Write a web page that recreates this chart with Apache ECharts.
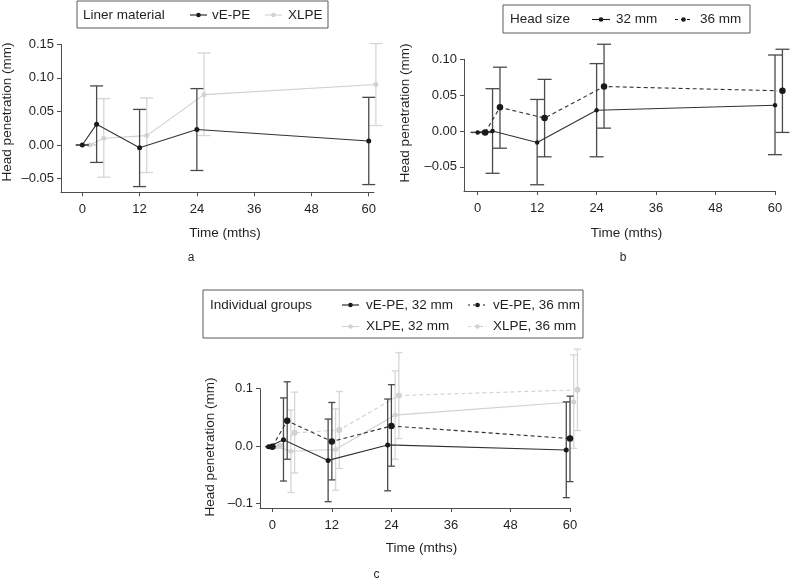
<!DOCTYPE html>
<html><head><meta charset="utf-8">
<script src="https://cdn.jsdelivr.net/npm/echarts@6/dist/echarts.min.js"></script>
<style>html,body{margin:0;padding:0;background:#fff}#c{width:790px;height:580px}</style>
</head><body><div id="c"></div>
<script>
// ---------- tick labels ----------
const xTicks = [0, 12, 24, 36, 48, 60];
const yTicksA = [-0.05, 0, 0.05, 0.10, 0.15];
const yTicksB = [-0.05, 0, 0.05, 0.10];
const yTicksC = [-0.1, 0, 0.1];

// ---------- panel a: liner material ----------
const aTimeVE = [0, 3, 12, 24, 60];
const aMeanVE = [0.000, 0.031, -0.004, 0.023, 0.006];
const aLowVE  = [0.000, -0.026, -0.062, -0.038, -0.059];
const aHighVE = [0.000, 0.088, 0.053, 0.084, 0.071];
const aTimeXL = [1.5, 4.5, 13.5, 25.5, 61.5];
const aMeanXL = [0.000, 0.010, 0.014, 0.075, 0.090];
const aLowXL  = [0.000, -0.048, -0.041, 0.014, 0.029];
const aHighXL = [0.000, 0.069, 0.070, 0.137, 0.151];

// ---------- panel b: head size ----------
const bTime32 = [0, 3, 12, 24, 60];
const bMean32 = [-0.002, 0.000, -0.016, 0.029, 0.036];
const bLow32  = [-0.002, -0.059, -0.075, -0.036, -0.033];
const bHigh32 = [-0.002, 0.059, 0.044, 0.094, 0.106];
const bTime36 = [1.5, 4.5, 13.5, 25.5, 61.5];
const bMean36 = [-0.002, 0.033, 0.018, 0.062, 0.056];
const bLow36  = [-0.002, -0.024, -0.036, 0.004, -0.002];
const bHigh36 = [-0.002, 0.089, 0.072, 0.121, 0.114];

// ---------- panel c: individual groups ----------
const cTimeVE32 = [-0.75, 2.25, 11.25, 23.25, 59.25];
const cMeanVE32 = [-0.001, 0.011, -0.025, 0.002, -0.007];
const cLowVE32  = [-0.001, -0.061, -0.097, -0.078, -0.090];
const cHighVE32 = [-0.001, 0.084, 0.047, 0.082, 0.077];
const cTimeVE36 = [0, 3, 12, 24, 60];
const cMeanVE36 = [-0.001, 0.044, 0.008, 0.035, 0.013];
const cLowVE36  = [-0.001, -0.023, -0.059, -0.035, -0.062];
const cHighVE36 = [-0.001, 0.112, 0.076, 0.107, 0.087];
const cTimeXL32 = [0.75, 3.75, 12.75, 24.75, 60.75];
const cMeanXL32 = [-0.001, -0.009, -0.006, 0.054, 0.077];
const cLowXL32  = [-0.001, -0.081, -0.077, -0.023, -0.004];
const cHighXL32 = [-0.001, 0.063, 0.065, 0.131, 0.159];
const cTimeXL36 = [1.5, 4.5, 13.5, 25.5, 61.5];
const cMeanXL36 = [0.000, 0.023, 0.028, 0.088, 0.098];
const cLowXL36  = [0.000, -0.047, -0.039, 0.013, 0.027];
const cHighXL36 = [0.000, 0.094, 0.095, 0.163, 0.169];

// ---------- styling ----------
const FONT = '"Liberation Sans", Arial, sans-serif';
const TXT = '#231f20';
const AX = '#4d4d4d';
const DARK = '#1a1a1a', DARKBAR = '#4a4a4a', DARKLINE = '#333333';
const LIGHT = '#d2d2d2', LIGHTBAR = '#d6d6d6', LIGHTLINE = '#d0d0d0';

const zip = (t, v) => t.map((x, i) => [x, v[i]]);
const zip3 = (t, lo, hi) => t.map((x, i) => [x, lo[i], hi[i]]);

function lineSeries(idx, t, v, color, lineColor, dash, size, z) {
  return {
    type: 'line', xAxisIndex: idx, yAxisIndex: idx, data: zip(t, v), clip: false, z: z,
    symbol: 'circle', symbolSize: size, showSymbol: true,
    itemStyle: { color: color, borderWidth: 0 },
    lineStyle: { color: lineColor, width: 1.1, type: dash ? [4, 3] : 'solid' },
    emphasis: { disabled: true }, silent: true
  };
}
function errSeries(idx, t, lo, hi, color, half, z) {
  return {
    type: 'custom', xAxisIndex: idx, yAxisIndex: idx, data: zip3(t, lo, hi), clip: false, z: z,
    encode: { x: 0, y: [1, 2] }, silent: true,
    renderItem: function (params, api) {
      const x = api.value(0), l = api.value(1), h = api.value(2);
      const p1 = api.coord([x, h]), p2 = api.coord([x, l]);
      const st = { stroke: color, lineWidth: 1.3, fill: null };
      return { type: 'group', children: [
        { type: 'line', shape: { x1: p1[0], y1: p1[1], x2: p2[0], y2: p2[1] }, style: st },
        { type: 'line', shape: { x1: p1[0] - half, y1: p1[1], x2: p1[0] + half, y2: p1[1] }, style: st },
        { type: 'line', shape: { x1: p2[0] - half, y1: p2[1], x2: p2[0] + half, y2: p2[1] }, style: st }
      ]};
    }
  };
}

function xAx(idx, min, max) {
  return {
    gridIndex: idx, type: 'value', min: min, max: max,
    axisLine: { show: true, onZero: false, lineStyle: { color: AX, width: 1 } },
    axisTick: { show: true, length: 4, customValues: xTicks, lineStyle: { color: AX } },
    axisLabel: { customValues: xTicks, margin: 11, fontSize: 13, color: TXT, fontFamily: FONT },
    splitLine: { show: false }
  };
}
function yAx(idx, min, max, ticks, dec) {
  return {
    gridIndex: idx, type: 'value', min: min, max: max,
    axisLine: { show: true, onZero: false, lineStyle: { color: AX, width: 1 } },
    axisTick: { show: true, length: 4, customValues: ticks, lineStyle: { color: AX } },
    axisLabel: { customValues: ticks, margin: 7, fontSize: 13, color: TXT, fontFamily: FONT,
      formatter: v => (v < -1e-9 ? '\u2013' : '') + Math.abs(v).toFixed(dec) },
    splitLine: { show: false }
  };
}

// ---------- graphic helpers (legends, titles) ----------
function txt(x, y, s, opts) {
  opts = opts || {};
  return { type: 'text', x: x, y: y, rotation: opts.rot || 0, silent: true,
    style: { text: s, fill: TXT, font: (opts.size || 13.5) + 'px ' + FONT,
      align: opts.align || 'left', verticalAlign: 'middle' } };
}
function legItem(x1, x2, y, lineColor, dotColor, dash, r) {
  return [
    { type: 'line', silent: true, shape: { x1: x1, y1: y, x2: x2, y2: y },
      style: { stroke: lineColor, lineWidth: 1.1, lineDash: dash || null } },
    { type: 'circle', silent: true, shape: { cx: (x1 + x2) / 2, cy: y, r: r },
      style: { fill: dotColor } }
  ];
}
function box(x, y, w, h) {
  return { type: 'rect', silent: true, shape: { x: x, y: y, width: w, height: h },
    style: { fill: '#fff', stroke: '#5a5a5a', lineWidth: 1 } };
}

const graphics = [].concat(
  // panel a legend
  [box(77, 1, 251, 27), txt(83, 15, 'Liner material')],
  legItem(190, 207, 15, DARK, DARK, null, 2.3), [txt(212, 15, 'vE-PE')],
  legItem(265, 282, 15, LIGHTLINE, LIGHT, null, 2.3), [txt(288, 15, 'XLPE')],
  // panel b legend
  [box(503, 5, 247, 28), txt(510, 19.5, 'Head size')],
  legItem(592, 610, 19.5, DARK, DARK, null, 2.3), [txt(616, 19.5, '32 mm')],
  legItem(675, 692, 19.5, DARK, DARK, [3, 3], 2.3), [txt(700, 19.5, '36 mm')],
  // panel c legend
  [box(203, 290, 380, 48), txt(210, 305, 'Individual groups')],
  legItem(342, 359, 305, DARK, DARK, null, 2.3), [txt(366, 305, 'vE-PE, 32 mm')],
  legItem(468, 487, 305, DARK, DARK, [2, 3], 2.3), [txt(493, 305, 'vE-PE, 36 mm')],
  legItem(342, 359, 326.5, LIGHTLINE, LIGHT, null, 2.3), [txt(366, 326.5, 'XLPE, 32 mm')],
  legItem(468, 487, 326.5, LIGHTLINE, LIGHT, [3, 3], 2.3), [txt(493, 326.5, 'XLPE, 36 mm')],
  // axis titles
  [txt(7, 112, 'Head penetration (mm)', { rot: Math.PI / 2, align: 'center' }),
   txt(405.5, 113, 'Head penetration (mm)', { rot: Math.PI / 2, align: 'center' }),
   txt(210, 447, 'Head penetration (mm)', { rot: Math.PI / 2, align: 'center' }),
   txt(225, 233, 'Time (mths)', { align: 'center' }),
   txt(626.5, 233, 'Time (mths)', { align: 'center' }),
   txt(421.5, 548.5, 'Time (mths)', { align: 'center' }),
   txt(191, 258, 'a', { align: 'center', size: 12 }),
   txt(623, 258, 'b', { align: 'center', size: 12 }),
   txt(376.5, 575, 'c', { align: 'center', size: 12 })]
);

const option = {
  animation: false,
  backgroundColor: '#ffffff',
  textStyle: { fontFamily: FONT },
  grid: [
    { left: 61, top: 44.3, width: 313, height: 148 },
    { left: 464, top: 59.3, width: 311, height: 131.7 },
    { left: 260, top: 388.7, width: 310, height: 119.3 }
  ],
  xAxis: [ xAx(0, -4.46, 61.1), xAx(1, -2.76, 60), xAx(2, -2.48, 60) ],
  yAxis: [ yAx(0, -0.0705, 0.15, yTicksA, 2), yAx(1, -0.0837, 0.10, yTicksB, 2), yAx(2, -0.108, 0.1, yTicksC, 1) ],
  series: [
    // panel a
    errSeries(0, aTimeXL, aLowXL, aHighXL, LIGHTBAR, 6.5, 1),
    lineSeries(0, aTimeXL, aMeanXL, LIGHT, LIGHTLINE, false, 5, 2),
    errSeries(0, aTimeVE, aLowVE, aHighVE, DARKBAR, 6.5, 3),
    lineSeries(0, aTimeVE, aMeanVE, DARK, DARKLINE, false, 5, 4),
    // panel b
    errSeries(1, bTime36, bLow36, bHigh36, DARKBAR, 7, 3),
    errSeries(1, bTime32, bLow32, bHigh32, DARKBAR, 7, 3),
    lineSeries(1, bTime36, bMean36, DARK, DARKLINE, true, 6.5, 4),
    lineSeries(1, bTime32, bMean32, DARK, DARKLINE, false, 4.5, 4),
    // panel c
    errSeries(2, cTimeXL36, cLowXL36, cHighXL36, LIGHTBAR, 3.5, 1),
    errSeries(2, cTimeXL32, cLowXL32, cHighXL32, LIGHTBAR, 3.5, 1),
    lineSeries(2, cTimeXL36, cMeanXL36, LIGHT, LIGHTLINE, true, 6, 2),
    lineSeries(2, cTimeXL32, cMeanXL32, LIGHT, LIGHTLINE, false, 5, 2),
    errSeries(2, cTimeVE32, cLowVE32, cHighVE32, DARKBAR, 3.5, 3),
    errSeries(2, cTimeVE36, cLowVE36, cHighVE36, DARKBAR, 3.5, 3),
    lineSeries(2, cTimeVE36, cMeanVE36, DARK, DARKLINE, true, 6.5, 4),
    lineSeries(2, cTimeVE32, cMeanVE32, DARK, DARKLINE, false, 5, 4)
  ],
  graphic: graphics
};

const chart = echarts.init(document.getElementById('c'), null, { renderer: 'canvas' });
chart.setOption(option);
</script>
</body></html>
